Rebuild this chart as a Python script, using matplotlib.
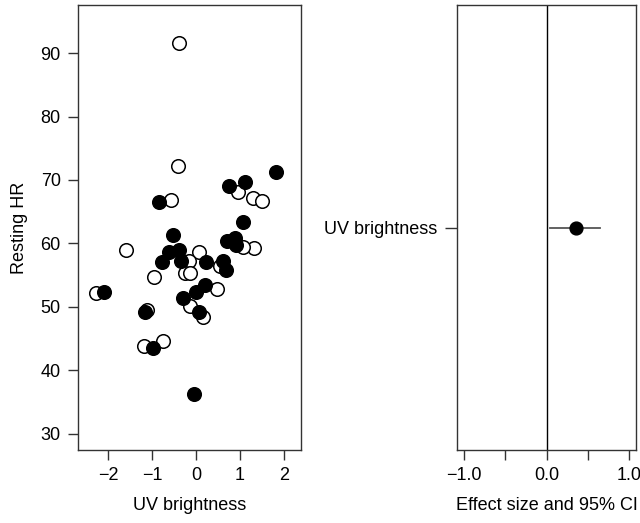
import matplotlib
matplotlib.use("Agg")
import matplotlib.pyplot as plt
import numpy as np

plt.rcParams['font.family'] = ['Liberation Sans', 'DejaVu Sans']

# Open circles
open_x = [-0.39, -0.41, -0.57, 0.96, 1.30, 1.51, -1.60, 0.07, -0.16, 1.33, 1.07,
          -0.96, -0.25, -0.14, 0.48, 0.55, -0.14, 0.16, -2.29, -1.12, -1.19, -0.75]
open_y = [91.6, 72.2, 66.9, 68.1, 67.2, 66.7, 58.9, 58.6, 57.2, 59.2, 59.5,
          54.7, 55.4, 55.4, 52.8, 56.5, 50.1, 48.4, 52.1, 49.5, 43.8, 44.6]

# Filled circles
fill_x = [1.81, 0.75, 1.12, -0.85, 1.07, -0.53, -0.62, -0.39, -0.78, -0.34, 0.23,
          0.71, 0.89, 0.91, 0.62, 0.69, 0.21, 0.00, -0.29, 0.07, -1.16, -2.10,
          -0.98, -0.05]
fill_y = [71.3, 69.1, 69.7, 66.5, 63.3, 61.3, 58.6, 58.9, 57.0, 57.2, 57.0,
          60.3, 60.8, 59.8, 57.2, 55.8, 53.4, 52.3, 51.4, 49.2, 49.2, 52.4,
          43.5, 36.2]

# Effect size
effect_labels = ["UV brightness"]
effect_est = [0.35]
effect_lo = [0.04]
effect_hi = [0.65]

fig = plt.figure(figsize=(6.4, 5.23), dpi=100)
W, H = 640, 523
def ax_rect(x0, x1, y0, y1):
    return [x0 / W, (H - y1) / H, (x1 - x0) / W, (y1 - y0) / H]

ax1 = fig.add_axes(ax_rect(78, 301, 5, 450))
ax2 = fig.add_axes(ax_rect(457, 636, 5, 450))

fs = 13
for ax in (ax1, ax2):
    for s in ax.spines.values():
        s.set_linewidth(1.0)
        s.set_color('#333333')
    ax.tick_params(direction='out', length=7.5, width=1.0, color='#333333',
                   labelsize=fs, pad=5)

ax1.scatter(open_x, open_y, s=95, facecolors='white', edgecolors='black',
            linewidths=1.1, zorder=3)
ax1.scatter(fill_x, fill_y, s=95, facecolors='black', edgecolors='black',
            linewidths=1.1, zorder=3)
ax1.set_xlim(-2.69, 2.39)
ax1.set_ylim(27.4, 97.6)
ax1.set_xticks([-2, -1, 0, 1, 2])
ax1.set_yticks([30, 40, 50, 60, 70, 80, 90])
ax1.set_xlabel("UV brightness", fontsize=fs, labelpad=9)
ax1.set_ylabel("Resting HR", fontsize=fs, labelpad=9)

ypos = np.arange(len(effect_labels))
ax2.axvline(0, color='black', linewidth=1.0)
for i in range(len(effect_labels)):
    ax2.plot([effect_lo[i], effect_hi[i]], [ypos[i], ypos[i]], color='#555555',
             linewidth=1.3, zorder=2)
ax2.scatter(effect_est, ypos, s=85, color='black', zorder=3)
ax2.set_xlim(-1.08, 1.08)
ax2.set_ylim(-1, 1)
ax2.set_yticks(ypos)
ax2.set_yticklabels(effect_labels)
ax2.tick_params(axis='y', length=9)
ax2.set_xticks([-1, -0.5, 0, 0.5, 1])
ax2.set_xticklabels(["\u22121.0", "", "0.0", "", "1.0"])
ax2.set_xlabel("Effect size and 95% CI", fontsize=fs, labelpad=9)

fig.savefig("out.png", dpi=100)
